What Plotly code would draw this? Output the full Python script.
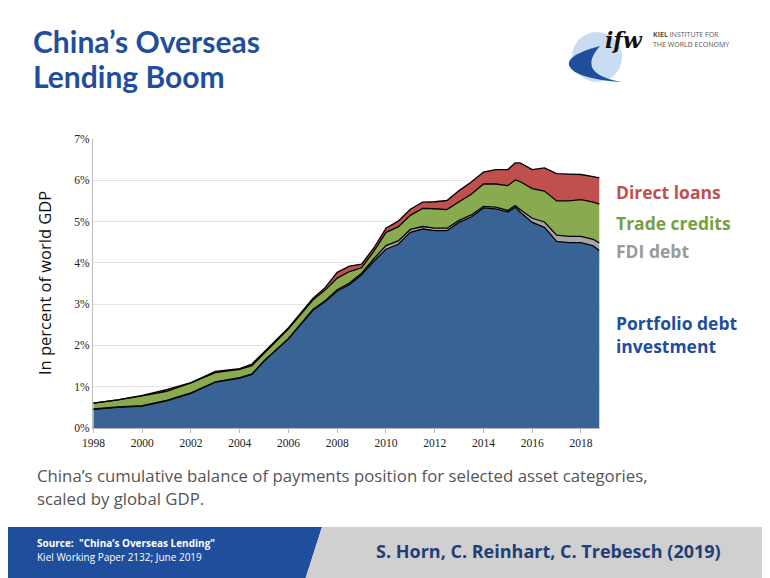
import plotly.graph_objects as go

years = [1998.0, 1999.0, 2000.0, 2001.0, 2002.0, 2003.0, 2004.0, 2004.5, 2005.0, 2006.0, 2007.0, 2007.5,
         2008.0, 2008.5, 2009.0, 2009.5, 2010.0, 2010.5, 2011.0, 2011.5, 2012.0, 2012.5, 2013.0, 2013.5,
         2014.0, 2014.5, 2015.0, 2015.3, 2015.5, 2016.0, 2016.5, 2017.0, 2017.5, 2018.0, 2018.5, 2018.75]
portfolio = [0.45, 0.50, 0.53, 0.66, 0.84, 1.11, 1.21, 1.30, 1.62, 2.16, 2.85, 3.06,
             3.32, 3.47, 3.71, 4.04, 4.33, 4.45, 4.74, 4.82, 4.78, 4.78, 4.98, 5.11,
             5.33, 5.31, 5.23, 5.35, 5.23, 4.98, 4.86, 4.52, 4.49, 4.49, 4.41, 4.30]
fdi = [0.01, 0.01, 0.01, 0.01, 0.01, 0.01, 0.01, 0.01, 0.01, 0.01, 0.02, 0.02,
       0.03, 0.04, 0.04, 0.06, 0.09, 0.08, 0.07, 0.06, 0.06, 0.06, 0.05, 0.05,
       0.04, 0.04, 0.04, 0.04, 0.06, 0.10, 0.13, 0.15, 0.15, 0.15, 0.16, 0.18]
trade = [0.14, 0.17, 0.24, 0.22, 0.24, 0.22, 0.20, 0.20, 0.18, 0.23, 0.23, 0.26,
         0.28, 0.28, 0.13, 0.18, 0.32, 0.34, 0.34, 0.44, 0.47, 0.45, 0.45, 0.50,
         0.54, 0.56, 0.60, 0.62, 0.68, 0.72, 0.75, 0.83, 0.86, 0.89, 0.90, 0.94]
loans = [0.0, 0.0, 0.01, 0.04, 0.01, 0.03, 0.02, 0.04, 0.03, 0.03, 0.04, 0.06,
         0.14, 0.13, 0.09, 0.08, 0.10, 0.14, 0.15, 0.15, 0.17, 0.22, 0.27, 0.30,
         0.29, 0.35, 0.39, 0.41, 0.45, 0.46, 0.56, 0.66, 0.65, 0.61, 0.62, 0.64]
xtick_vals = [1998, 2000, 2002, 2004, 2006, 2008, 2010, 2012, 2014, 2016, 2018]
ytick_vals = [0, 1, 2, 3, 4, 5, 6, 7]
ytick_text = ["0%", "1%", "2%", "3%", "4%", "5%", "6%", "7%"]

BLUE = "#3a6395"; GREEN = "#8aaa4f"; RED = "#c0504d"; GREY = "#a6a6a6"
fig = go.Figure()
for name, vals, col in [("Portfolio", portfolio, BLUE), ("FDI", fdi, GREY),
                        ("Trade", trade, GREEN), ("Loans", loans, RED)]:
    fig.add_trace(go.Scatter(x=years, y=vals, name=name, stackgroup="one", mode="lines",
                             line=dict(color="black", width=1.3), fillcolor=col))

OFF = 8  # page body margin
W, H = 770 - OFF, 578 - OFF
L, R, T, B = 93, 600, 139, 428  # reference pixel coords of plot area
def px(x): return (x - L) / (R - L)
def py(y): return (B - y) / (B - T)

fig.update_layout(
    width=W, height=H, showlegend=False, plot_bgcolor="white", paper_bgcolor="white",
    margin=dict(l=L - OFF, r=770 - R, t=T - OFF, b=578 - B),
    xaxis=dict(range=[1997.98, 2018.78], tickvals=xtick_vals, showgrid=False, showline=True,
               linecolor="#bbbbbb", ticks="outside", ticklen=4, tickcolor="#bbbbbb",
               tickfont=dict(family="Liberation Serif", size=11.5, color="#222")),
    yaxis=dict(range=[0, 7], tickvals=ytick_vals, ticktext=ytick_text, showgrid=True,
               gridcolor="#e3e3e3", showline=True, linecolor="#bbbbbb", zeroline=False,
               tickfont=dict(family="Liberation Serif", size=11.5, color="#222")),
)

shapes = [
    dict(type="path", xref="paper", yref="paper",
         path=f"M {px(0)} {py(527)} L {px(322)} {py(527)} L {px(305)} {py(580)} L {px(0)} {py(580)} Z",
         fillcolor="#1f4e9c", line=dict(width=0), layer="above"),
    dict(type="path", xref="paper", yref="paper",
         path=f"M {px(322)} {py(527)} L {px(772)} {py(527)} L {px(772)} {py(580)} L {px(305)} {py(580)} Z",
         fillcolor="#d0d0d0", line=dict(width=0), layer="above"),
    dict(type="circle", xref="paper", yref="paper", x0=px(572), x1=px(622), y0=py(82), y1=py(32),
         fillcolor="#c9dcf2", line=dict(width=0)),
    dict(type="path", xref="paper", yref="paper",
         path=f"M {px(600)} {py(46)} Q {px(555)} {py(58)} {px(575)} {py(72)} Q {px(590)} {py(80)} {px(622)} {py(82)} Q {px(575)} {py(74)} {px(600)} {py(46)} Z",
         fillcolor="#1f4e9c", line=dict(width=0)),
]
fig.update_layout(shapes=shapes)

def ann(x, y, text, size, color, bold=False, family="Open Sans", xanchor="left", angle=0):
    fig.add_annotation(xref="paper", yref="paper", x=px(x), y=py(y), text=f"<b>{text}</b>" if bold else text,
                       showarrow=False, xanchor=xanchor, yanchor="middle", align="left", textangle=angle,
                       font=dict(family=family, size=size, color=color))

ann(31, 41, "China’s Overseas", 30, "#1f4e9c", bold=True, family="Lato")
ann(31, 76, "Lending Boom", 30, "#1f4e9c", bold=True, family="Lato")
ann(603, 40, "<i>ifw</i>", 22, "#111", bold=True, family="DejaVu Serif")
ann(651, 34, "<b>KIEL</b> INSTITUTE FOR", 7, "#555")
ann(651, 45, "THE WORLD ECONOMY", 7, "#555")
ann(44, 283, "In percent of world GDP", 16.5, "#111", family="Open Sans", xanchor="center", angle=-90)
ann(614, 192, "Direct loans", 17.5, RED, bold=True)
ann(614, 223, "Trade credits", 17.5, "#77a043", bold=True)
ann(614, 251, "FDI debt", 17.5, "#9a9a9a", bold=True)
ann(614, 323, "Portfolio debt", 17.5, "#1f4e9c", bold=True)
ann(614, 346, "investment", 17.5, "#1f4e9c", bold=True)
ann(35, 476, "China’s cumulative balance of payments position for selected asset categories,", 16.8, "#555")
ann(35, 498, "scaled by global GDP.", 16.8, "#555")
ann(35, 543, "Source:  \"China’s Overseas Lending\"", 10, "white", bold=True)
ann(35, 557, "Kiel Working Paper 2132; June 2019", 10, "white")
ann(548, 551, "S. Horn, C. Reinhart, C. Trebesch (2019)", 18, "#1f3f7a", bold=True, xanchor="center")

fig.write_html("out.html")
